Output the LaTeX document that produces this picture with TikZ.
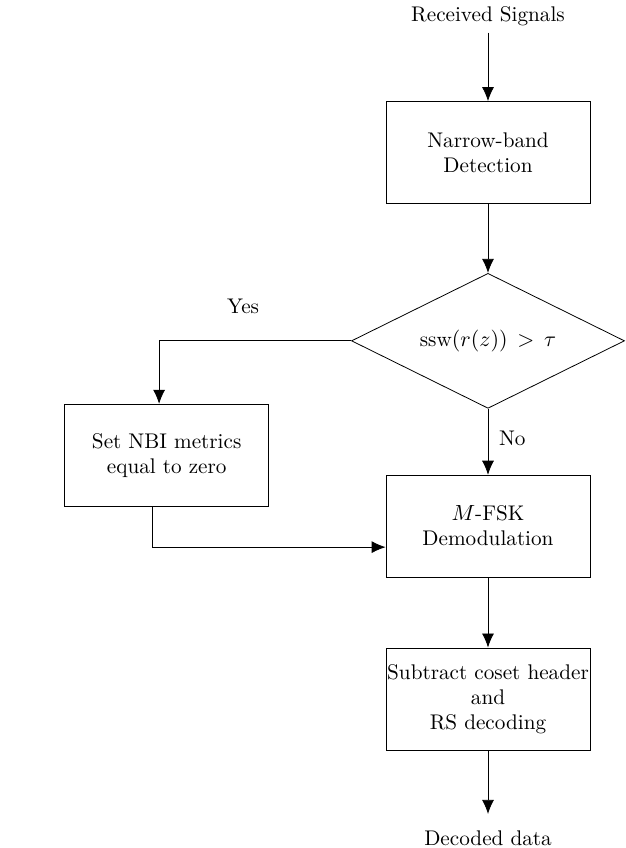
\documentclass[tikz,border=0pt]{standalone}
\usepackage{fontspec}
\usetikzlibrary{positioning,shapes.geometric,arrows.meta}

\begin{document}
\begin{tikzpicture}[>={Latex[length=7pt,width=6pt]},
  every node/.style={font=\fontsize{10.6}{12.5}\selectfont},
  block/.style={draw,align=center,minimum width=102pt,minimum height=51pt,inner xsep=0.5pt},
  test/.style={draw,diamond,aspect=2,minimum width=136.5pt,minimum height=67.5pt,inner sep=0pt}]
\useasboundingbox (0,0) rectangle (313pt,-424pt);

\node (rx) at (244pt,-8pt) {Received Signals};
\node[block,below=34.2pt of rx] (nbd) {Narrow-band\\Detection};
\node[test,below=34.5pt of nbd] (dia) {$\mathrm{ssw}(r(z))\,>\,\tau$};
\node[block,below=33pt of dia] (fsk) {$M$-FSK\\Demodulation};
\node[block,below=35pt of fsk] (rs) {Subtract coset header\\and\\RS decoding};
\node[below=36.5pt of rs] (dec) {Decoded data};

\coordinate[left=96pt of dia.west] (turn);
\node[block,below=31.5pt of turn,xshift=3.8pt] (nbi) {Set NBI metrics\\equal to zero};
\coordinate (join) at ([yshift=-10.5pt]fsk.west);

\draw[->] (rx) -- (nbd);
\draw[->] (nbd) -- (dia);
\draw[->] (dia) -- node[pos=0.45,right=2pt] {No} (fsk);
\draw[->] (fsk) -- (rs);
\draw[->,shorten >=4.7pt] (rs) -- (dec);
\draw[->] (dia.west) -- node[pos=0.5625,above=10pt] {Yes} (turn) -- (turn |- nbi.north);
\draw[->] ([xshift=-7pt]nbi.south) |- (join);
\end{tikzpicture}
\end{document}
